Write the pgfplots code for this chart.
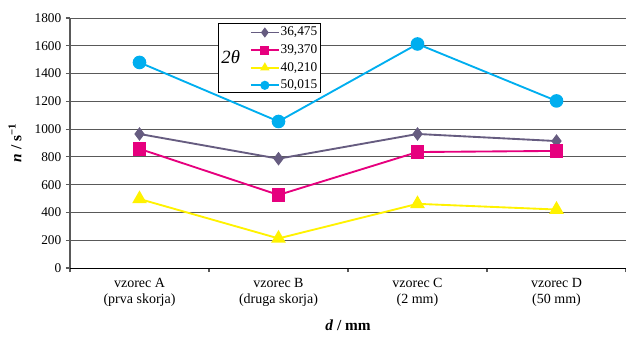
\documentclass[border=0pt]{standalone}
\usepackage{pgfplots}
\pgfplotsset{compat=1.18}
\usepackage{fontspec}
\setmainfont{Liberation Serif}
\definecolor{cA}{HTML}{665C80}
\definecolor{cB}{HTML}{E6007E}
\definecolor{cC}{HTML}{FFF200}
\definecolor{cD}{HTML}{00AEEF}
\begin{document}
\begin{tikzpicture}
\begin{axis}[name=ax, scale only axis, width=417pt, height=187.5pt,
  xmin=0.5, xmax=4.5, ymin=0, ymax=1800,
  xtick={0.5,1.5,2.5,3.5,4.5}, x tick label as interval,
  xticklabels={{vzorec A\\(prva skorja)},{vzorec B\\(druga skorja)},{vzorec C\\(2 mm)},{vzorec D\\(50 mm)}},
  x tick label style={align=center, font=\fontsize{10.5}{12}\selectfont, yshift=-1pt},
  ytick={0,200,...,1800},
  y tick label style={font=\fontsize{10}{11}\selectfont},
  /pgf/number format/assume math mode=true,
  /pgf/number format/set thousands separator={},
  axis x line*=bottom, axis y line*=left,
  axis line style={black!65, line width=1pt},
  x axis line style={black, line width=0.7pt},
  tick align=outside, major tick length=3pt,
  tick style={black!65, line width=0.8pt},
  ymajorgrids, major grid style={black!65, line width=0.75pt},
  xlabel={\textbf{\textit{d} / mm}},
  xlabel style={at={(axis description cs:0.5,-0.27)}, anchor=south, font=\fontsize{11.5}{12}\selectfont},
  ylabel={\textbf{\textit{n} / s\textsuperscript{−1}}},
  ylabel style={at={(axis description cs:-0.099,0.5)}, anchor=center, font=\fontsize{11.5}{12}\selectfont},
  legend style={at={(axis description cs:0.449,0.974)}, anchor=north east, draw=none, fill=none,
    font=\fontsize{10}{11}\selectfont, row sep=3.6pt, inner sep=1pt,
    nodes={text height=6.8pt, text depth=1.6pt, inner sep=0.6pt}},
  legend cell align=left,
  legend image code/.code={\draw[mark repeat=2, mark phase=2, #1, mark size=2.7pt] plot coordinates {(0pt,0pt) (10.5pt,0pt) (21pt,0pt)};},
]
\draw[black, line width=0.6pt, fill=white] (axis description cs:0.266,0.98) rectangle (axis description cs:0.451,0.704);
\node[font=\fontsize{14}{16}\selectfont\itshape] at (axis description cs:0.289,0.842) {2θ};
\addplot[cA, line width=1.4pt, mark=diamond*, mark size=4pt, mark options={fill=cA, draw=cA}] coordinates {(1,965) (2,787) (3,965) (4,914)};
\addlegendentry{36,475}
\addplot[cB, line width=1.4pt, mark=square*, mark size=4.3pt, mark options={fill=cB, draw=cB}] coordinates {(1,858) (2,526) (3,835) (4,843)};
\addlegendentry{39,370}
\addplot[cC, line width=1.4pt, mark=triangle*, mark size=5pt, mark options={fill=cC, draw=cC}] coordinates {(1,497) (2,213) (3,462) (4,421)};
\addlegendentry{40,210}
\addplot[cD, line width=1.4pt, mark=*, mark size=4.4pt, mark options={fill=cD, draw=cD}] coordinates {(1,1480) (2,1055) (3,1613) (4,1203)};
\addlegendentry{50,015}
\end{axis}
\pgfresetboundingbox
\path ([shift={(-52.5pt,-51pt)}]ax.south west) rectangle ([shift={(0pt,13.5pt)}]ax.north east);
\end{tikzpicture}
\end{document}
